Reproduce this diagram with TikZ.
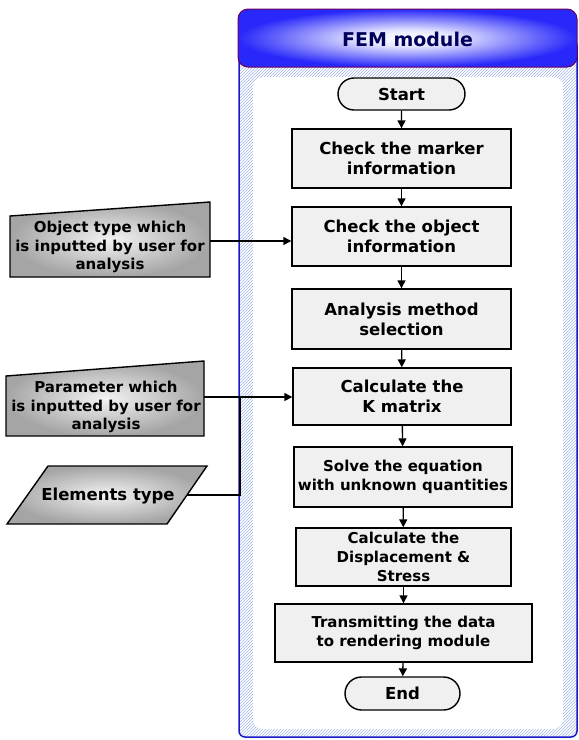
\documentclass[tikz,border=0pt]{standalone}
\usepackage{fontspec}
\setmainfont{DejaVu Sans}
\usetikzlibrary{arrows.meta,patterns,shapes.misc}
\definecolor{hdrblue}{RGB}{40,40,250}
\definecolor{hdrline}{RGB}{110,0,90}
\definecolor{panelblue}{RGB}{25,25,200}
\definecolor{hatch}{RGB}{160,180,235}
\definecolor{navy}{RGB}{0,0,90}
\definecolor{ingray}{RGB}{165,165,165}
\pgfdeclareradialshading{hdrshade}{\pgfpoint{0bp}{0bp}}{color(0bp)=(white); color(7bp)=(white!88!hdrblue); color(25bp)=(hdrblue); color(50bp)=(hdrblue)}
\pgfdeclareradialshading{inshade}{\pgfpoint{0bp}{0bp}}{color(0bp)=(white!95!black); color(6bp)=(white!88!black); color(25bp)=(ingray); color(50bp)=(ingray)}
\begin{document}
\begin{tikzpicture}[x=1pt,y=-1pt,
  box/.style={draw=black, line width=1.4pt, fill=gray!12, align=center, inner sep=0pt,
    font=\bfseries\fontsize{16.5}{20}\selectfont},
  sbox/.style={box, font=\bfseries\fontsize{15}{19}\selectfont},
  term/.style={draw=black, line width=1.4pt, rounded rectangle, fill=gray!12, inner sep=0pt,
    font=\bfseries\fontsize{16.5}{20}\selectfont},
  intext/.style={align=center, inner sep=0pt, font=\bfseries\fontsize{15}{18.5}\selectfont},
  inshape/.style={draw=black, line width=1.4pt, shading=inshade},
  arr/.style={line width=1.4pt, -{Triangle[length=8pt,width=8pt]}},
  conn/.style={line width=1.4pt}]
\useasboundingbox (0,0) rectangle (579,740);

% panel
\draw[pattern=north east lines, pattern color=hatch, draw=panelblue, line width=1.5pt, rounded corners=6pt]
  (239,40) rectangle (577,737);
\fill[white, rounded corners=10pt] (253,77) rectangle (563,729);
\shadedraw[draw=hdrline, line width=1pt, rounded corners=10pt, shading=hdrshade]
  (238,9) rectangle (577,67);
\node[font=\bfseries\fontsize{19}{22}\selectfont, text=navy] (title) at (407.5,39) {FEM module};

% flow nodes
\node[term, minimum width=127pt, minimum height=32pt] (start) at (401.5,94) {Start};
\node[box, minimum width=219pt, minimum height=59pt] (marker) at (401.5,158.5) {Check the marker\\information};
\node[box, minimum width=219pt, minimum height=59pt] (object) at (401.5,236.5) {Check the object\\information};
\node[box, minimum width=219pt, minimum height=60pt] (analysis) at (401.5,319) {Analysis method\\selection};
\node[box, minimum width=218pt, minimum height=57pt] (kmat) at (402,396.5) {Calculate the\\K matrix};
\node[sbox, minimum width=218pt, minimum height=60pt] (solve) at (403,477) {Solve the equation\\with unknown quantities};
\node[sbox, minimum width=215pt, minimum height=58pt] (disp) at (403.5,557) {Calculate the\\Displacement \&\\Stress};
\node[sbox, minimum width=257pt, minimum height=58pt] (trans) at (403.5,633) {Transmitting the data\\to rendering module};
\node[term, minimum width=115pt, minimum height=33pt] (end) at (402.5,693.5) {End};

\draw[arr] (start) -- (marker);
\draw[arr] (marker) -- (object);
\draw[arr] (object) -- (analysis);
\draw[arr] (analysis) -- (kmat);
\draw[arr] (kmat) -- (solve);
\draw[arr] (solve) -- (disp);
\draw[arr] (disp) -- (trans);
\draw[arr] (trans) -- (end);

% input shapes
\shadedraw[inshape] (10,216) -- (210,202) -- (210,277) -- (10,277) -- cycle;
\node[intext] (objtxt) at (110,247) {Object type which\\is inputted by user for\\analysis};
\coordinate (objR) at (210,241);
\draw[arr] (objR) -- (objR -| object.west);

\shadedraw[inshape] (6,376) -- (204,361) -- (204,436) -- (6,436) -- cycle;
\node[intext] (partxt) at (106,407) {Parameter which\\is inputted by user for\\analysis};
\coordinate (parR) at (204,397);
\draw[arr] (parR) -- (parR -| kmat.west);

\shadedraw[inshape] (48,466) -- (207,466) -- (167,524) -- (7,524) -- cycle;
\node[intext, font=\bfseries\fontsize{16.5}{20}\selectfont] (eltxt) at (108,496) {Elements type};
\coordinate (elR) at (187,495);
\coordinate (junc) at (240,397);
\draw[conn] (elR) -| (junc);
\end{tikzpicture}
\end{document}
